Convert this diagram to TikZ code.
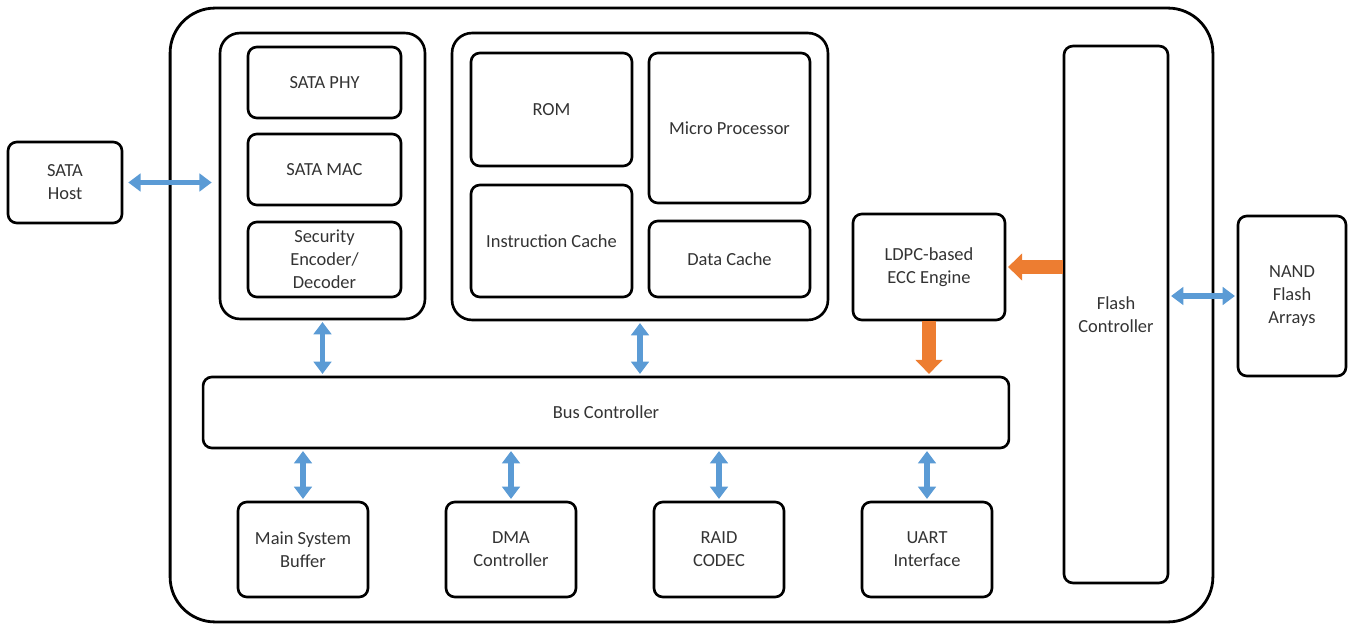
\documentclass[tikz,border=0pt]{standalone}
\usepackage{fontspec}
\setmainfont{Carlito}
\usetikzlibrary{positioning}
\usetikzlibrary{arrows.meta}
\definecolor{linkblue}{HTML}{5B9BD5}
\definecolor{eccorange}{HTML}{ED7D31}
\tikzset{
  blk/.style={draw, line width=1.5pt, rounded corners=5pt, align=center,
    inner sep=2pt, font=\fontsize{10.5}{13}\selectfont, text=black!80},
  grp/.style={draw, line width=1.5pt, rounded corners=0.4cm},
  barrow/.style={{Triangle[width=10pt,length=7pt]}-{Triangle[width=10pt,length=7pt]},
    line width=3pt, linkblue},
  oarrow/.style={-{Triangle[width=15pt,length=8pt]}, line width=8pt, eccorange}
}

\begin{document}
\begin{tikzpicture}[x=0.02cm, y=-0.02cm]
\useasboundingbox (0,0) rectangle (1353,625);

% ---------- Chip outline ----------
\node[draw, line width=1.6pt, rounded corners=0.9cm, minimum width=20.86cm,
  minimum height=12.28cm] (chip) at (691.5,315) {};

% ---------- Host side ----------
\node[blk, minimum width=2.28cm, minimum height=1.62cm] (host) at (65,182.5) {SATA\\Host};

% ---------- SATA interface group ----------
\node[grp, minimum width=4.1cm, minimum height=5.72cm] (lgrp) at (322.5,176) {};
\node[blk, minimum width=3.06cm, minimum height=1.42cm] (phy) at (324.5,82.5) {SATA PHY};
\node[blk, minimum width=3.06cm, minimum height=1.42cm] (mac) at (324.5,169.5) {SATA MAC};
\node[blk, minimum width=3.06cm, minimum height=1.5cm] (sec) at (324.5,259.5)
  {Security\\Encoder/\\Decoder};

% ---------- Processor group ----------
\node[grp, minimum width=7.52cm, minimum height=5.74cm] (rgrp) at (640,176.5) {};
\node[blk, minimum width=3.22cm, minimum height=2.26cm] (rom) at (551.5,109.5) {ROM};
\node[blk, minimum width=3.22cm, minimum height=3.0cm] (mproc) at (729.5,128) {Micro Processor};
\node[blk, minimum width=3.22cm, minimum height=2.24cm] (icache) at (551.5,241) {Instruction Cache};
\node[blk, minimum width=3.22cm, minimum height=1.52cm] (dcache) at (729.5,259) {Data Cache};

% ---------- ECC and flash ----------
\node[blk, minimum width=3.04cm, minimum height=2.12cm] (ldpc) at (929,267) {LDPC-based\\ECC Engine};
\node[blk, minimum width=2.08cm, minimum height=10.74cm] (flash) at (1116,314.5) {Flash\\Controller};
\node[blk, minimum width=2.16cm, minimum height=3.2cm] (nand) at (1292,296) {NAND\\Flash\\Arrays};

% ---------- Bus and peripherals ----------
\node[blk, minimum width=16.12cm, minimum height=1.42cm] (bus) at (606,412.5) {Bus Controller};
\node[blk, minimum width=2.6cm, minimum height=1.9cm] (buf) at (303,549.5) {Main System\\Buffer};
\node[blk, minimum width=2.6cm, minimum height=1.9cm] (dma) at (511,549.5) {DMA\\Controller};
\node[blk, minimum width=2.6cm, minimum height=1.9cm] (raid) at (719,549.5) {RAID\\CODEC};
\node[blk, minimum width=2.6cm, minimum height=1.9cm] (uart) at (927,549.5) {UART\\Interface};

% ---------- Links ----------
\draw[barrow, shorten <=0.1cm, shorten >=0.14cm] (host.east) -- (host.east -| lgrp.west);
\draw[barrow, shorten <=1pt, shorten >=1pt] (lgrp.south) -- (lgrp.south |- bus.north);
\draw[barrow, shorten <=1pt, shorten >=1pt] (rgrp.south) -- (rgrp.south |- bus.north);
\foreach \p in {buf, dma, raid, uart}
  \draw[barrow, shorten <=1pt, shorten >=1pt] (\p.north |- bus.south) -- (\p.north);
\draw[barrow, shorten <=1pt, shorten >=1pt] (flash.east |- nand.west) -- (nand.west);
\draw[oarrow, shorten >=1pt] (flash.west |- ldpc.east) -- (ldpc.east);
\draw[oarrow, shorten >=1pt] (ldpc.south) -- (ldpc.south |- bus.north);

\end{tikzpicture}
\end{document}
